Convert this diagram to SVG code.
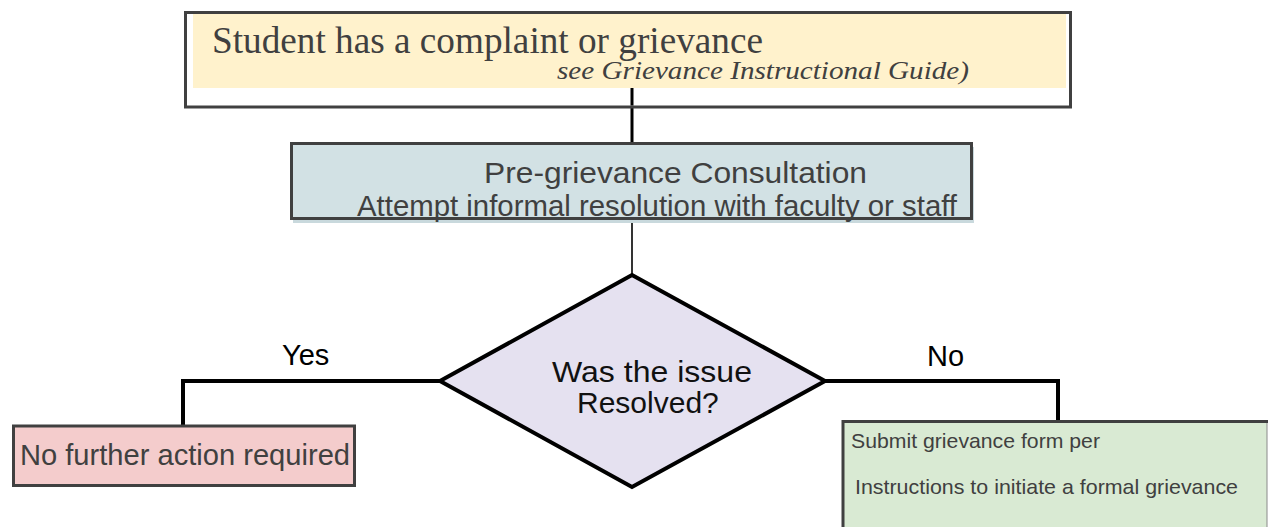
<svg xmlns="http://www.w3.org/2000/svg" width="1268" height="527" viewBox="0 0 1268 527">
<defs>
<style>
.box{stroke:#404040;stroke-width:3}
.sans{font-family:"Liberation Sans",Arial,sans-serif}
.serif{font-family:"Liberation Serif","Times New Roman",serif}
.gray{fill:#404040}
.conn{fill:none;stroke:#000}
</style>
</defs>
<rect width="1268" height="527" fill="#ffffff"/>
<g id="connectors">
<line class="conn" x1="632" y1="88" x2="632" y2="143" stroke-width="3"/>
<line class="conn" x1="632" y1="219" x2="632" y2="276" stroke-width="1.6"/>
<polyline class="conn" points="441,381 183,381 183,426" stroke-width="4"/>
<polyline class="conn" points="824,381 1058,381 1058,423" stroke-width="4"/>
</g>
<g id="start">
<rect x="185.5" y="12.5" width="885" height="94.5" fill="#ffffff" class="box"/>
<rect x="193" y="14" width="873" height="74" fill="#FFF2CC"/>
<line x1="632" y1="88" x2="632" y2="105.5" stroke="#000" stroke-width="3"/>
<text x="212" y="53" class="serif gray" font-size="37" textLength="551" lengthAdjust="spacingAndGlyphs">Student has a complaint or grievance</text>
<text x="557" y="79" class="serif gray" font-size="25" font-style="italic" textLength="412" lengthAdjust="spacingAndGlyphs">see Grievance Instructional Guide)</text>
</g>
<g id="consult">
<rect x="293" y="147" width="681" height="76" fill="#C9D9DD"/>
<rect x="291.5" y="143.5" width="680" height="75" fill="#D2E1E4" class="box"/>
<text x="484" y="183" class="sans gray" font-size="30" textLength="383" lengthAdjust="spacingAndGlyphs">Pre-grievance Consultation</text>
<text x="357" y="216" class="sans gray" font-size="30" textLength="600" lengthAdjust="spacingAndGlyphs">Attempt informal resolution with faculty or staff</text>
</g>
<g id="decision">
<polygon points="632,275 825,381 632,487 440,381" fill="#E5E1F0" stroke="#000" stroke-width="4" stroke-linejoin="miter"/>
<text x="552" y="382" class="sans" fill="#111" font-size="30" textLength="200" lengthAdjust="spacingAndGlyphs">Was the issue</text>
<text x="577" y="413" class="sans" fill="#111" font-size="30">Resolved?</text>
</g>
<g id="labels">
<text x="282" y="365" class="sans" fill="#000" font-size="29">Yes</text>
<text x="927" y="366" class="sans" fill="#000" font-size="29">No</text>
</g>
<g id="no-action">
<rect x="13.5" y="426" width="341" height="59.5" fill="#F4CCCC" class="box"/>
<text x="20" y="465" class="sans gray" font-size="29" textLength="330" lengthAdjust="spacingAndGlyphs">No further action required</text>
</g>
<g id="formal">
<rect x="843" y="421.5" width="424" height="120" fill="#D9EAD3"/>
<line x1="1267" y1="421.5" x2="1267" y2="527" stroke="#8a8a8a" stroke-width="1"/>
<path d="M843,527 V421.5 H1268" fill="none" stroke="#404040" stroke-width="3"/>
<text x="851" y="448" class="sans gray" font-size="21" textLength="249" lengthAdjust="spacingAndGlyphs">Submit grievance form per</text>
<text x="855" y="494" class="sans gray" font-size="21" textLength="383" lengthAdjust="spacingAndGlyphs">Instructions to initiate a formal grievance</text>
</g>
</svg>
